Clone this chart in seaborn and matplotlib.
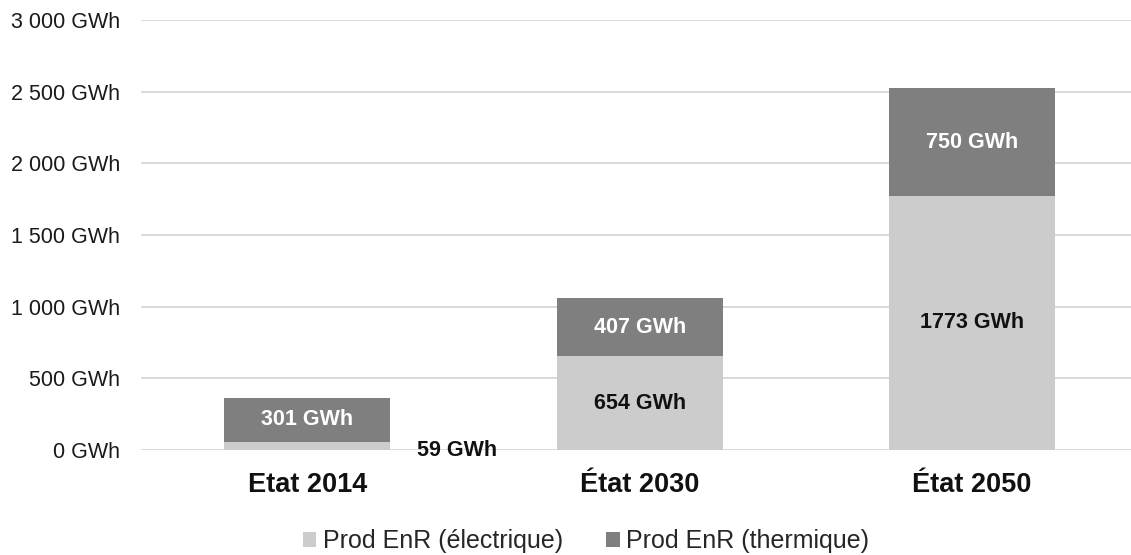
import matplotlib
matplotlib.use("Agg")
import matplotlib.pyplot as plt
import seaborn as sns
import numpy as np
import pandas as pd
from matplotlib.patches import Patch

# Renewable production by horizon (GWh)
categories = ["Etat 2014", "État 2030", "État 2050"]
elec_values = [59, 654, 1773]       # Prod EnR (électrique)
therm_values = [301, 407, 750]      # Prod EnR (thermique)
y_ticks = [0, 500, 1000, 1500, 2000, 2500, 3000]

LIGHT = "#cccccc"
DARK = "#7f7f7f"
GRID = "#d9d9d9"

sns.set_theme(style="white")
plt.rcParams["font.family"] = ["Liberation Sans", "DejaVu Sans"]

df = pd.DataFrame({"cat": categories, "elec": elec_values, "therm": therm_values})
df["total"] = df["elec"] + df["therm"]

fig = plt.figure(figsize=(11.31, 5.55), dpi=100)
ax = fig.add_axes([141 / 1131, 1 - 450 / 555, 1 - 141 / 1131, 430 / 555])

# stacked bars: full height in dark, lower segment in light on top
sns.barplot(data=df, x="cat", y="total", color=DARK, saturation=1, width=0.5,
            ax=ax, zorder=2, linewidth=0)
sns.barplot(data=df, x="cat", y="elec", color=LIGHT, saturation=1, width=0.5,
            ax=ax, zorder=3, linewidth=0)

ax.set_xlim(-0.5, 2.478)
ax.set_ylim(0, 3000)
ax.set_yticks(y_ticks)
ax.set_yticklabels([f"{v:,} GWh".replace(",", " ") for v in y_ticks], fontsize=15.5, color="#1a1a1a")
ax.set_xticks(range(len(categories)))
ax.set_xticklabels(categories, fontsize=19.5, fontweight="bold", color="#111111")
ax.tick_params(axis="x", length=0, pad=16)
ax.tick_params(axis="y", length=0, pad=15)
ax.set_xlabel("")
ax.set_ylabel("")
for s in ax.spines.values():
    s.set_visible(False)
ax.grid(axis="y", color=GRID, linewidth=1.4, zorder=0)
ax.set_axisbelow(True)

lab_kw = dict(ha="center", va="center", fontsize=15.5, fontweight="bold", zorder=5)
for i, (e, t) in enumerate(zip(elec_values, therm_values)):
    ax.text(i, e + t / 2, f"{t} GWh", color="white", **lab_kw)
    if e > 200:
        ax.text(i, e / 2, f"{e} GWh", color="#111111", **lab_kw)
    else:
        ax.text(i + 0.45, 0, f"{e} GWh", color="#111111", clip_on=False, **lab_kw)

handles = [Patch(facecolor=LIGHT, edgecolor="none", label="Prod EnR (électrique)"),
           Patch(facecolor=DARK, edgecolor="none", label="Prod EnR (thermique)")]
fig.legend(handles=handles, loc="center", bbox_to_anchor=(586 / 1131, 1 - 541 / 555),
           ncol=2, frameon=False, fontsize=18, handlelength=0.55, handleheight=0.55,
           handletextpad=0.25, columnspacing=1.75, borderpad=0)

fig.savefig("out.png", dpi=100)
